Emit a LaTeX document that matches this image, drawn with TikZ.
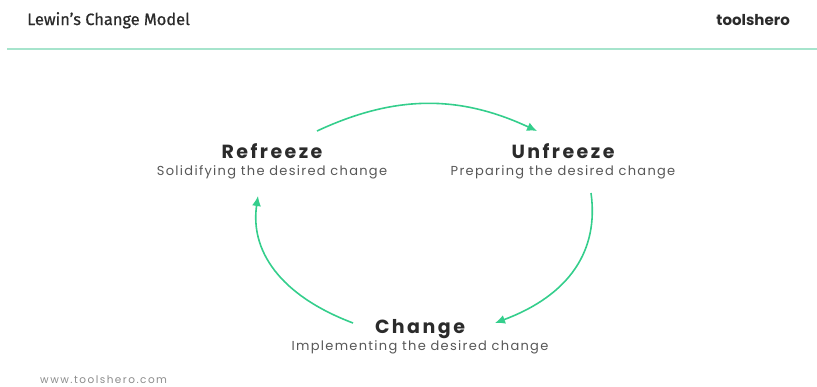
\documentclass[tikz,border=0pt]{standalone}
\usepackage{fontspec}
\setmainfont{Poppins}
\newfontfamily\headfont[FakeBold=0.8]{Fira Sans}
\newfontfamily\stagefont[LetterSpace=13]{Poppins}
\newfontfamily\notefont[LetterSpace=10]{Poppins}
\newfontfamily\urlfont[LetterSpace=14]{Poppins}
\usetikzlibrary{positioning, arrows.meta}

\definecolor{ink}{HTML}{2B2B2B}
\definecolor{subgray}{HTML}{575757}
\definecolor{urlgray}{HTML}{8C8C8C}
\definecolor{flowgreen}{HTML}{34CE8C}
\definecolor{rulegreen}{HTML}{A6E4CC}

\begin{document}
\begin{tikzpicture}[x=1pt, y=1pt,
    stage/.style={anchor=base, inner sep=0, text=ink, font=\stagefont\fontsize{19}{22}\selectfont\bfseries},
    sub/.style={anchor=base, inner sep=0, text=subgray, font=\notefont\fontsize{13}{15}\selectfont},
    flow/.style={draw=flowgreen, line width=1.6pt, -{Latex[length=10pt, width=9pt]}},
    ]

   \useasboundingbox (0,0) rectangle (817,-386);

   % Header.
   \node[anchor=base west, inner sep=0, text=ink, font=\headfont\fontsize{16.4}{19}\selectfont] (title) at (27,-25) {Lewin’s Change Model};
   \node[anchor=base east, inner sep=0, text=ink, font=\fontsize{15}{18}\selectfont\bfseries] (brand) at (790,-25) {toolshero};
   \draw[rulegreen, line width=2pt] (7,-49) -- (817,-49);

   % Stages.
   \node[stage] (refreeze) at (272,-158) {Refreeze};
   \node[sub] (refreeze_sub) at (272,-175) {Solidifying the desired change};
   \node[stage] (unfreeze) at (563,-158) {Unfreeze};
   \node[sub] (unfreeze_sub) at (563,-175) {Preparing the desired change};
   \node[stage] (change) at (420,-333) {Change};
   \node[sub] (change_sub) at (420,-350) {Implementing the desired change};

   % Arc ends.
   \coordinate (refreeze_out) at (317,-131);
   \coordinate (unfreeze_in) at (537,-131);
   \coordinate (unfreeze_out) at (591,-193);
   \coordinate (change_in) at (495,-323);
   \coordinate (change_out) at (353,-323);
   \coordinate (refreeze_in) at (258,-196);

   \draw[flow] (refreeze_out) to [out=25, in=155] (unfreeze_in);
   \draw[flow] (unfreeze_out) .. controls +(8,-57) and +(75,28) .. (change_in);
   \draw[flow] (change_out) .. controls +(-74,28) and +(-8,-54) .. (refreeze_in);

   % Footer.
   \node[anchor=base west, inner sep=0, text=urlgray, font=\urlfont\fontsize{10.5}{12}\selectfont] (url) at (40,-383) {www.toolshero.com};

\end{tikzpicture}
\end{document}
